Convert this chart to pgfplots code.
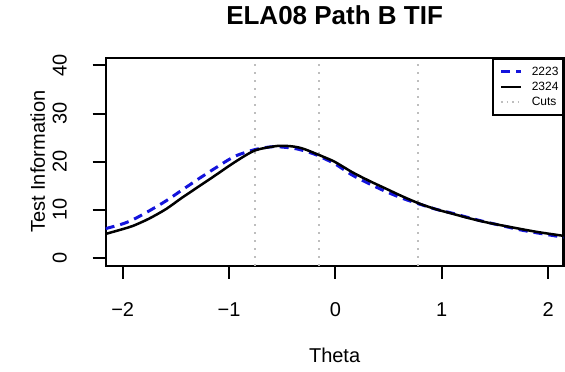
\documentclass[border=0pt]{standalone}
\usepackage{fontspec}
\setmainfont{Liberation Sans}
\usepackage{pgfplots}
\pgfplotsset{compat=1.18}
\definecolor{rblue}{RGB}{20,20,220}
\definecolor{cutgray}{RGB}{190,190,190}
\begin{document}
\begin{tikzpicture}[x=1pt,y=1pt]
\useasboundingbox (0,0) rectangle (565,372);
\begin{axis}[
  at={(105.7pt,106.3pt)}, anchor=south west, scale only axis,
  width=457.8pt, height=208pt,
  xmin=-2.16, xmax=2.145, ymin=-1.6, ymax=41.6,
  axis line style={line width=2.2pt, black},
  xtick={-2,-1,0,1,2}, xticklabels={−2,−1,0,1,2},
  ytick={0,10,20,30,40}, yticklabels={0,10,20,30,40},
  xtick pos=left, ytick pos=left,
  tick align=outside, major tick length=13pt,
  every tick/.style={black, line width=2pt},
  tick label style={font=\fontsize{20}{24}\selectfont, inner sep=0pt},
  xticklabel style={anchor=north, yshift=-24pt},
  yticklabel style={rotate=90, anchor=base, yshift=26pt},
  xlabel={Theta}, ylabel={Test Information},
  label style={font=\fontsize{20}{24}\selectfont, inner sep=0pt},
  xlabel style={at={(axis description cs:0.5,0)}, anchor=base, yshift=-97pt},
  ylabel style={at={(axis description cs:0,0.5)}, anchor=base, yshift=60.7pt},
  title={ELA08 Path B TIF},
  title style={at={(axis description cs:0.5,1)}, anchor=base, yshift=26.7pt, inner sep=0pt,
    font=\bfseries\fontsize{26}{31}\selectfont},
  legend style={at={(1,1)}, anchor=north east, draw=black, line width=2pt,
    font=\fontsize{12}{13}\selectfont, inner xsep=3pt, inner ysep=7pt,
    row sep=3.5pt, legend cell align=left,
    nodes={inner sep=1pt}},
  legend image code/.code={\draw[#1] (0pt,0pt) -- (20pt,0pt); \path (-4pt,0pt) (28pt,0pt);},
]
\addplot[cutgray, line width=1.8pt, dash pattern=on 1.5pt off 6.5pt, forget plot] coordinates {(-0.753,-1.6) (-0.753,41.6)};
\addplot[cutgray, line width=1.8pt, dash pattern=on 1.5pt off 6.5pt, forget plot] coordinates {(-0.156,-1.6) (-0.156,41.6)};
\addplot[cutgray, line width=1.8pt, dash pattern=on 1.5pt off 6.5pt, forget plot] coordinates {(0.778,-1.6) (0.778,41.6)};
\addplot[rblue, line width=3pt, dash pattern=on 9pt off 6pt, smooth] coordinates {
(-2.16,6.1) (-2.0,7.1) (-1.9,8.0) (-1.75,9.8) (-1.59,11.9) (-1.45,14.0)
(-1.275,16.6) (-1.12,18.8) (-0.947,21.1) (-0.76,22.5) (-0.6,23.1) (-0.48,23.0)
(-0.35,22.6) (-0.20,21.6) (-0.10,20.6) (0.0,19.5) (0.16,17.2) (0.32,15.4)
(0.475,13.8) (0.63,12.4) (0.79,11.2) (0.95,10.1) (1.10,9.3) (1.25,8.4)
(1.41,7.5) (1.57,6.7) (1.725,5.9) (1.90,5.2) (2.145,4.3)};
\addlegendentry{2223}
\addplot[black, line width=2.5pt, smooth] coordinates {
(-2.16,5.0) (-2.0,6.0) (-1.9,6.7) (-1.75,8.2) (-1.59,10.2) (-1.45,12.4)
(-1.275,15.0) (-1.12,17.3) (-0.947,19.9) (-0.76,22.3) (-0.57,23.2) (-0.48,23.3)
(-0.38,23.1) (-0.29,22.6) (-0.10,20.9) (0.0,19.9) (0.16,17.8) (0.32,16.0)
(0.475,14.4) (0.63,12.8) (0.79,11.3) (0.95,10.1) (1.10,9.2) (1.25,8.3)
(1.41,7.45) (1.57,6.75) (1.725,6.1) (1.90,5.4) (2.145,4.6)};
\addlegendentry{2324}
\addlegendimage{cutgray, line width=1.8pt, dash pattern=on 1.5pt off 4pt}
\addlegendentry{Cuts}
\end{axis}
\end{tikzpicture}
\end{document}
